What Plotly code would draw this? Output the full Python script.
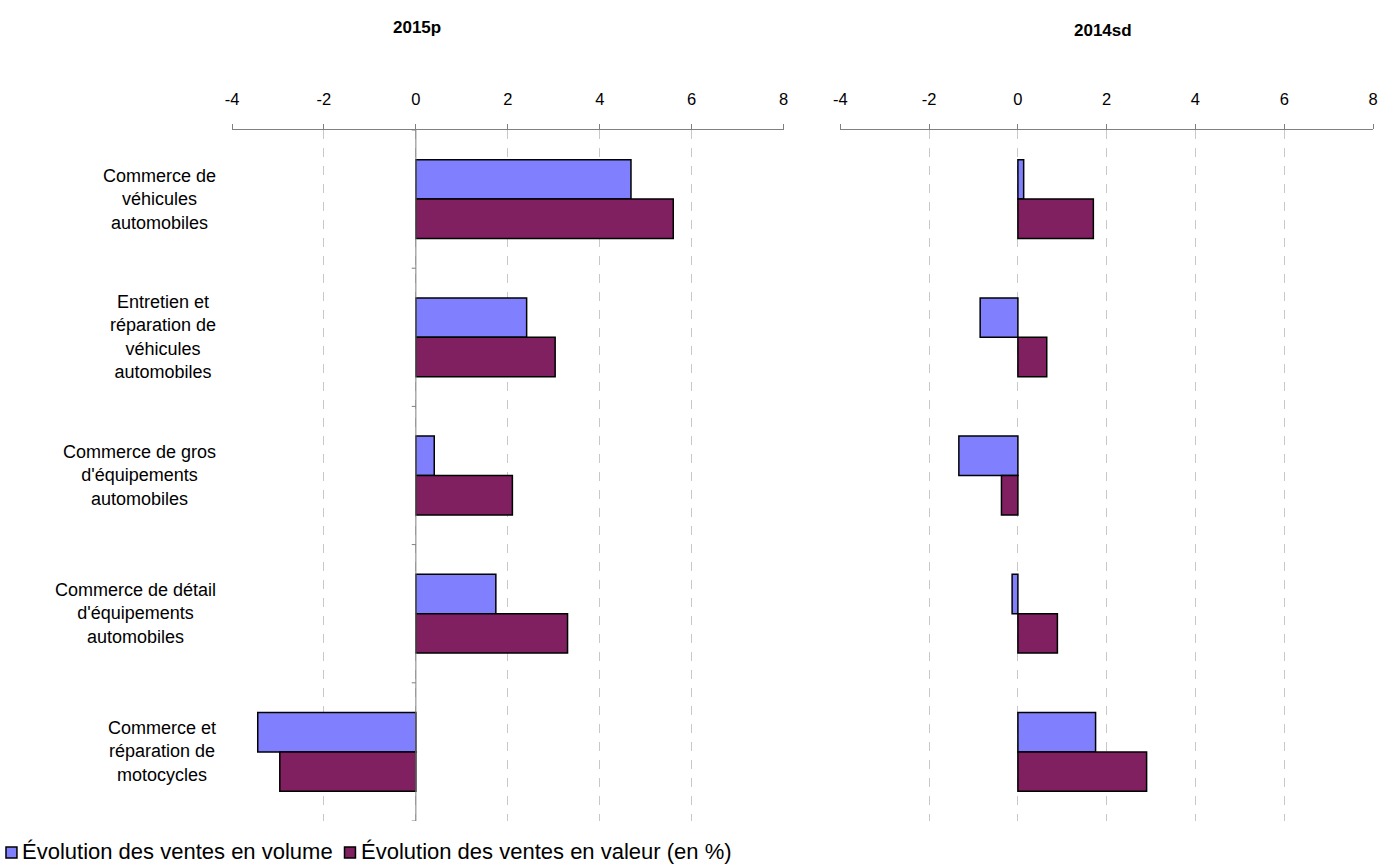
import plotly.graph_objects as go
from plotly.subplots import make_subplots

categories = [
    "Commerce de<br>véhicules<br>automobiles",
    "Entretien et<br>réparation de<br>véhicules<br>automobiles",
    "Commerce de gros<br>d'équipements<br>automobiles",
    "Commerce de détail<br>d'équipements<br>automobiles",
    "Commerce et<br>réparation de<br>motocycles",
]
volume_2015 = [4.68, 2.41, 0.40, 1.74, -3.44]
valeur_2015 = [5.60, 3.03, 2.10, 3.30, -2.96]
volume_2014 = [0.13, -0.85, -1.33, -0.13, 1.75]
valeur_2014 = [1.70, 0.65, -0.37, 0.89, 2.90]
panel_titles = ["2015p", "2014sd"]
series_names = ["Évolution des ventes en volume", "Évolution des ventes en valeur (en %)"]
x_ticks = [-4, -2, 0, 2, 4, 6, 8]

BLUE = "#8080FF"
PURPLE = "#802060"
FONT = "Liberation Sans, Arial, sans-serif"

W, H = 1383, 867
ML, MR, MT, MB = 232, 5, 130, 46
PLOT_W = W - ML - MR
PLOT_H = H - MT - MB


def px_x(px):
    return (px - ML) / PLOT_W


def px_y(py):
    return (H - MB - py) / PLOT_H


idx = list(range(len(categories)))

fig = make_subplots(rows=1, cols=2, horizontal_spacing=0.05)

panels = [(volume_2015, valeur_2015), (volume_2014, valeur_2014)]
for col, (vol, val) in enumerate(panels, start=1):
    fig.add_trace(go.Bar(y=idx, x=vol, orientation="h", name=series_names[0],
                         marker=dict(color=BLUE, line=dict(color="black", width=1.5)),
                         showlegend=False), row=1, col=col)
    fig.add_trace(go.Bar(y=idx, x=val, orientation="h", name=series_names[1],
                         marker=dict(color=PURPLE, line=dict(color="black", width=1.5)),
                         showlegend=False), row=1, col=col)

xaxis_common = dict(range=[-4, 8], side="top", tickvals=x_ticks, ticktext=[str(t) for t in x_ticks],
                    showline=True, linecolor="#808080", linewidth=1, ticks="outside", ticklen=5,
                    tickcolor="#808080", showgrid=True, gridcolor="#C8C8C8", griddash="dash",
                    gridwidth=1, zeroline=False, ticklabelstandoff=12,
                    tickfont=dict(size=16.5, color="black", family=FONT), fixedrange=True)
fig.update_xaxes(**xaxis_common)
fig.update_xaxes(domain=[0, px_x(786)], row=1, col=1)
fig.update_xaxes(domain=[px_x(843), 1], row=1, col=2)

fig.update_yaxes(range=[len(categories) - 0.5, -0.5], showticklabels=False, showgrid=False,
                 zeroline=False, showline=False, ticks="")

# solid category axis along x = 0 in the left panel, with ticks between categories
shapes = [dict(type="line", xref="x", yref="y domain", x0=0, x1=0, y0=0, y1=1,
               line=dict(color="#808080", width=1))]
for i in range(len(categories) + 1):
    shapes.append(dict(type="line", xref="x", yref="y", x0=-0.09, x1=0, y0=i - 0.5, y1=i - 0.5,
                       line=dict(color="#808080", width=1)))

annotations = []
for i, lab in enumerate(categories):
    annotations.append(dict(text=lab, xref="paper", yref="y", x=px_x(218), y=i, xanchor="right",
                            yanchor="middle", align="center", showarrow=False,
                            font=dict(size=18, color="black", family=FONT)))
annotations.append(dict(text="<b>" + panel_titles[0] + "</b>", xref="paper", yref="paper",
                        x=px_x(418), y=px_y(27), xanchor="center", yanchor="middle",
                        showarrow=False, font=dict(size=17, color="black", family=FONT)))
annotations.append(dict(text="<b>" + panel_titles[1] + "</b>", xref="paper", yref="paper",
                        x=px_x(1107), y=px_y(30), xanchor="center", yanchor="middle",
                        showarrow=False, font=dict(size=17, color="black", family=FONT)))

# legend row below the panels: swatch + label for each series
legend_items = [(series_names[0], BLUE, 5, 19), (series_names[1], PURPLE, 345, 360)]
for name, color, sx, tx in legend_items:
    shapes.append(dict(type="rect", xref="paper", yref="paper",
                       x0=px_x(sx), x1=px_x(sx + 11), y0=px_y(858), y1=px_y(847),
                       fillcolor=color, line=dict(color="black", width=1.5)))
    annotations.append(dict(text=name, xref="paper", yref="paper", x=px_x(tx), y=px_y(851),
                            xanchor="left", yanchor="middle", showarrow=False,
                            font=dict(size=22, color="black", family=FONT)))

fig.update_layout(
    width=W, height=H,
    margin=dict(l=ML, r=MR, t=MT, b=MB),
    paper_bgcolor="white", plot_bgcolor="white",
    barmode="group", bargap=0.43, bargroupgap=0,
    shapes=shapes, annotations=annotations,
    showlegend=False,
    font=dict(family=FONT),
)

fig.write_html("out.html")
